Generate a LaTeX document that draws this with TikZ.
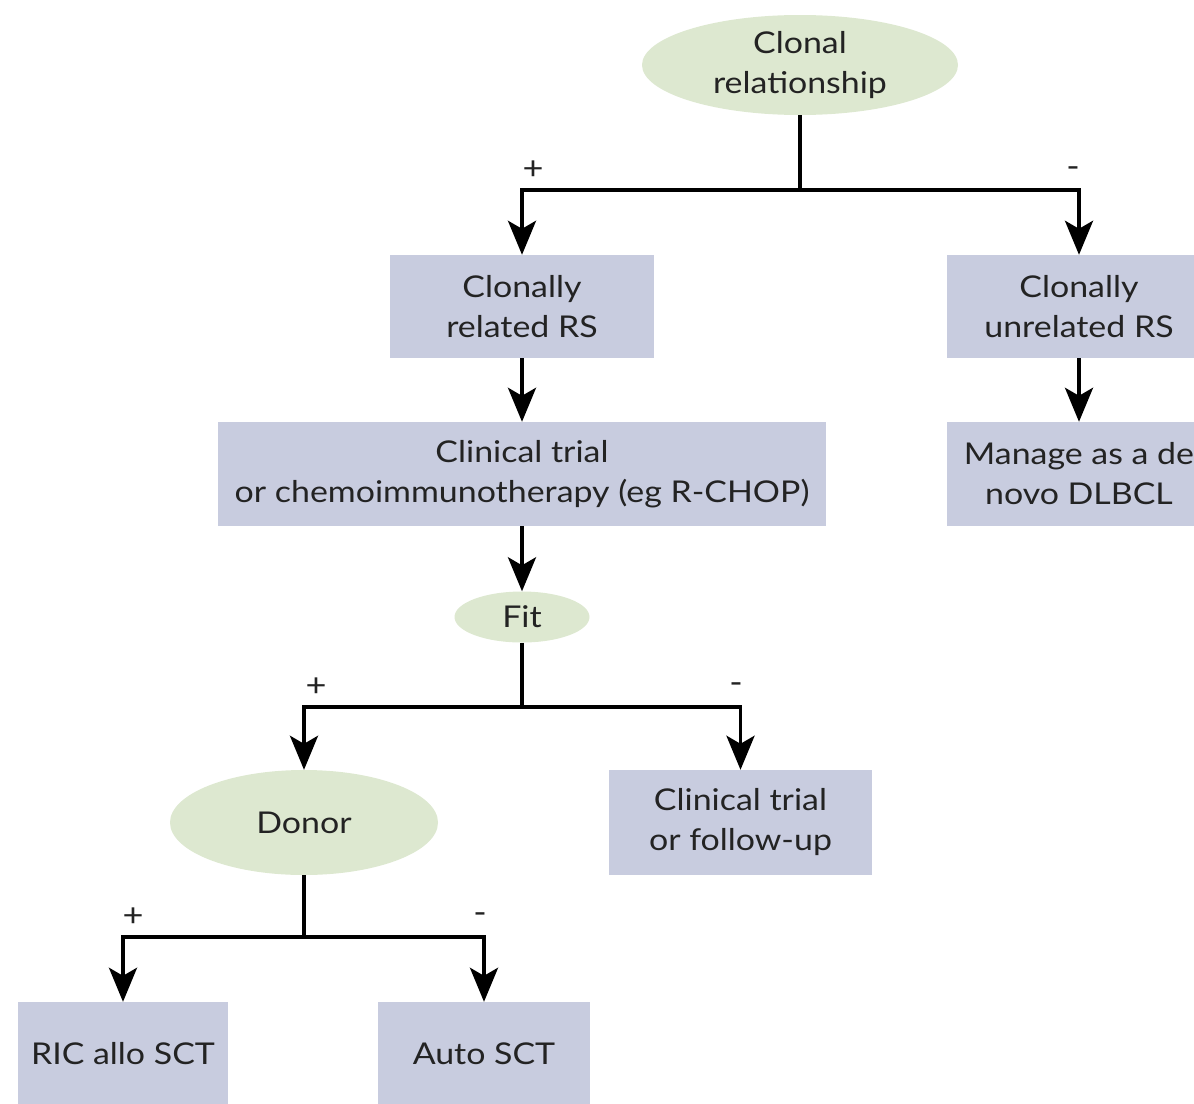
\documentclass[tikz,border=0pt]{standalone}
\usepackage{fontspec}
\setmainfont{Lato}[FakeStretch=1.13]
\usetikzlibrary{shapes.geometric,arrows.meta}
\definecolor{ovalc}{RGB}{221,232,208}
\definecolor{boxc}{RGB}{200,204,223}
\definecolor{ink}{RGB}{35,35,35}
\begin{document}
\begin{tikzpicture}[x=1pt,y=-1pt,
  txt/.style={align=center, text=ink, font=\fontsize{30}{40}\selectfont, inner sep=0pt},
  oval/.style={txt, ellipse, fill=ovalc, draw=none},
  rbox/.style={txt, rectangle, fill=boxc, draw=none},
  sign/.style={text=ink, font=\fontsize{32}{32}\selectfont, inner sep=0pt},
  conn/.style={line width=3.8pt, draw=black},
  arr/.style={conn, -{Stealth[length=34pt,width=28pt,inset=8pt]}}]
\useasboundingbox (0,0) rectangle (1194,1103);
\clip (0,0) rectangle (1194,1103);
% nodes
\node[oval, minimum width=316pt, minimum height=100pt] (clonal) at (800,65) {Clonal\\relationship};
\node[rbox, minimum width=264pt, minimum height=103pt] (rel) at (522,306.5) {Clonally\\related RS};
\node[rbox, minimum width=264pt, minimum height=103pt] (unrel) at (1079,306.5) {Clonally\\unrelated RS};
\node[rbox, minimum width=608pt, minimum height=104pt] (chemo) at (522,474) {Clinical trial\\or chemoimmunotherapy (eg R-CHOP)};
\node[rbox, minimum width=264pt, minimum height=104pt] (manage) at (1079,474) {Manage as a de\\novo DLBCL};
\node[oval, minimum width=135pt, minimum height=51pt] (fit) at (522,617) {Fit};
\node[oval, minimum width=268pt, minimum height=105pt] (donor) at (304,822.5) {Donor};
\node[rbox, minimum width=263pt, minimum height=105pt] (ctfu) at (740.5,822.5) {Clinical trial\\or follow-up};
\node[rbox, minimum width=210pt, minimum height=103pt] (ric) at (123,1053.5) {RIC allo SCT};
\node[rbox, minimum width=212pt, minimum height=103pt] (auto) at (484,1053.5) {Auto SCT};
% signs
\node[sign] (p1) at (533,170) {+};
\node[sign] (m1) at (1073,172) {-};
\node[sign] (p2) at (316,687) {+};
\node[sign] (m2) at (736,688) {-};
\node[sign] (p3) at (133,917) {+};
\node[sign] (m3) at (480,918) {-};
% junctions
\coordinate (j1) at (800,190);
\coordinate (j2) at (522,707);
\coordinate (j3) at (304,937);
% connectors
\draw[conn] (clonal.south) -- (j1);
\draw[arr] (j1) -| (rel.north);
\draw[arr] (j1) -| (unrel.north);
\draw[arr] (rel.south) -- (chemo.north);
\draw[arr] (unrel.south) -- (manage.north);
\draw[arr] (chemo.south) -- (fit.north);
\draw[conn] (fit.south) -- (j2);
\draw[arr] (j2) -| (donor.north);
\draw[arr] (j2) -| (ctfu.north);
\draw[conn] (donor.south) -- (j3);
\draw[arr] (j3) -| (ric.north);
\draw[arr] (j3) -| (auto.north);
\end{tikzpicture}
\end{document}
